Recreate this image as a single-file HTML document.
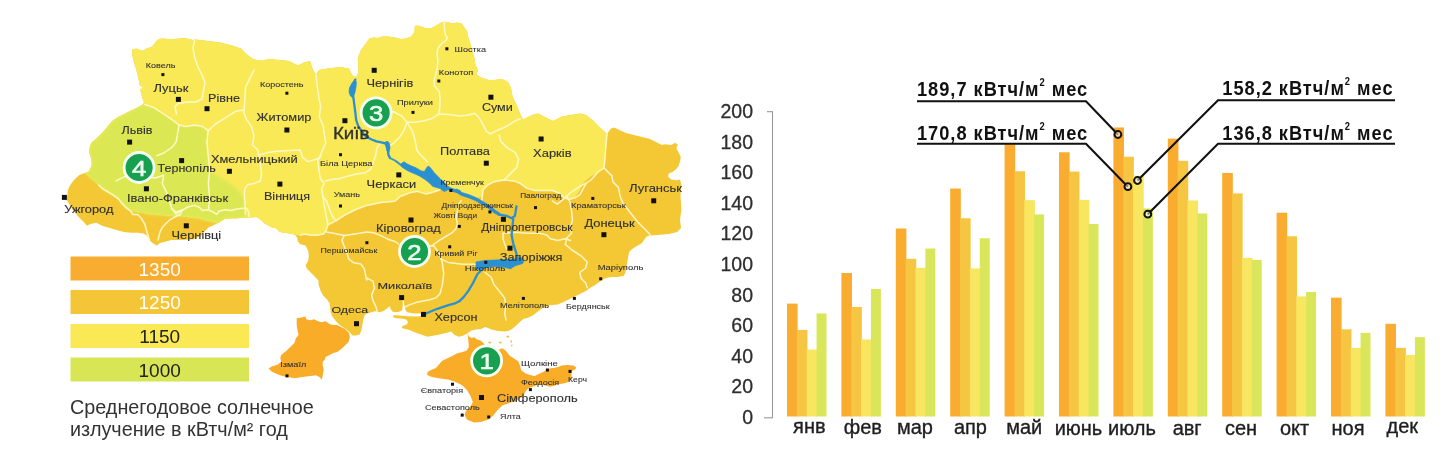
<!DOCTYPE html>
<html><head><meta charset="utf-8"><style>
html,body{margin:0;padding:0;background:#fff;}
body{width:1456px;height:466px;overflow:hidden;position:relative;font-family:"Liberation Sans",sans-serif;}
svg{position:absolute;left:0;top:0;filter:blur(0.35px);}
</style></head><body>
<svg width="1456" height="466" viewBox="0 0 1456 466" font-family="Liberation Sans, sans-serif">
<polygon points="131.8,49.7 136.1,48.6 140.4,50.2 142.5,50.7 146.8,48.6 152.2,46.4 155.4,42.2 158.6,38.9 162.9,38.4 168.3,38.9 173.6,38.9 180,38.4 184.3,37.9 188.6,38.9 192.9,40 196,39.5 208,41 220,42.5 232,45.5 241,48.5 247,54.5 253,59 259,60.5 264,60.5 268,59 280,60 289,61 298,65.5 304,62.5 310,61 313,70 316,74.5 319,70 328,68.5 340,67 349,68.5 350.5,72 353,76 356.5,76.8 358.5,72 358,62 357.8,57.9 360.7,50.4 366.1,42.9 369.3,38.6 373.6,37.5 377.9,38.1 382.2,36.5 388.6,36.5 395,37.5 400.4,39.1 405.8,38.6 411.1,36.5 414.4,32.2 414.9,25.7 418.6,25.7 425.1,27.9 431.5,27.9 435.8,25.7 441.2,22.5 444.4,21.4 448.7,22.5 453,23.6 457.3,22.5 461.6,23.6 464.8,27.9 467,31.1 468,36.5 470.1,42.9 472.3,50.4 474.4,57.9 475.5,65 478,70 476.5,74.5 481,77.5 490,80.5 502,79 508,82 511,88 512.6,97 517,106 520,113.6 523,119.6 532,115 538,113.6 547,118 553,121 562,116.6 571,115 580,113.6 586,115 593.6,121 601,128.6 607,134 611,128.5 614,127.6 626,133 638,136 650,139 662,145 665,144.3 671,145 675.5,142.8 677.8,145 676.3,148 678.5,152.5 680.8,157 680,161.5 678.5,166 676.3,169 672.5,172 668.8,173.5 668,176.5 671,179.5 677,180.3 680,179.5 681.5,185.5 680.8,190 680.5,196 681.4,209.9 680,219.6 681,228 677.2,232 668.8,234 657.6,235 650.4,235.5 646.5,236.4 644.6,239.3 641.7,243.2 636.9,246.1 632.1,249 629.2,251.9 628.2,256.7 627.2,262.5 626.3,268.3 625.3,273.1 623.4,276 617.6,277 611.8,277 606,277.9 602.1,279.9 598.3,282.8 594.4,285.6 590.5,287.6 586.7,290.5 580.9,293.4 575.1,296.3 569.3,299.2 563.5,302.1 557.7,304.5 549.4,305.2 543,307.7 537.9,311.6 532.7,315.5 527.5,318 523.7,318.7 519.8,321.9 516,325.7 512.1,329 508.2,330.9 504.4,331.5 497.9,330.9 491.5,329.6 487.6,327.7 485,327 481.2,329 476,329.6 471.5,330.5 467.2,333.6 462.9,335.8 458.6,336.8 454.3,334.7 451.1,331.5 447.9,332.5 443.6,333.6 438.3,334.7 432.9,335.8 427.5,336.8 422.6,335 417.8,333.4 412.9,331.5 408.1,329.6 403.3,328.6 401.3,327.2 403.3,325.7 407.1,324.3 408.1,321.9 406.2,319.5 401.3,318.6 396.5,318.3 392.7,317 393.5,315.3 397,315.3 402,315.8 408,316.2 414,316.5 420,316.2 424.5,315 420.7,313.6 414.9,313.4 411,313 407.1,312.2 405.2,309.3 404.2,304.5 403.6,299 402.6,299 402.8,304.5 402.3,310.3 399.4,311.7 395.6,312.2 392.7,311.7 390.7,309.3 389.8,305.9 388.8,306.9 385.9,309.3 383,311.2 379.1,312.2 375.3,311.2 371.4,312.2 367.6,313.2 364.7,315.1 363.5,318.5 362.5,324 361.5,330 359.5,334.5 356,335.5 352.6,335.4 350.1,332.8 347.5,330.2 343.6,327.6 339.8,325.1 335.9,321.2 332,316 330.7,312.2 330.1,307 329.5,303.2 326.9,299.3 323,295.5 320.4,290.3 318.5,284 318.5,280.4 314.6,276.5 310.7,272.6 306.9,268.8 305.6,264.9 308.2,261 308.8,255.9 308.2,250.7 305.6,245.6 300.4,244.3 297.9,241.7 297.3,238 295.1,234.7 290.8,233.7 286.5,233.1 282.2,232.6 279,231.5 275.8,228.3 271.5,227.2 267.2,225.1 264,222.9 260.8,219.7 256.5,217 251.1,217.5 245.7,217.5 240.4,218.1 235,218.6 231.4,218.3 224.6,219 220,222 214,225 208.8,227.3 205,231 201.3,235.5 193.8,239.3 182.5,240 171.3,240 166,241.6 160,243 156.7,245.5 152.5,243 149.4,240 147,235.7 143.5,233.4 137.6,232.8 131.7,232.8 125.8,232.2 119.9,231 114,229.2 108.1,227.5 102.2,225.7 96.3,222.8 90.4,223.9 86.9,225.7 83.3,221.6 78.6,216.9 72.7,209.8 69.2,203.9 66.8,200.3 67.4,194.4 68,189.7 70.3,185 74,180 79.3,175 85.1,173.1 89,171.2 90.9,167.3 91.9,163.4 90.9,157.6 89,151.8 90,146 91.9,142.2 96.7,138.3 102.5,132.5 107.3,126.7 112.2,120.9 118,117 123.8,114.2 129.6,111.3 135.4,108.4 141.2,105.5 144.1,102.8 142.7,99 141.2,94.1 140.3,89.3 143.2,87.9 139.3,84.5 138.8,79.7 137.4,74.8 136.4,70 135,66 133.9,62 132.9,58 132.3,54" fill="#F4C735"/>
<polygon points="131.8,49.7 136.1,48.6 140.4,50.2 142.5,50.7 146.8,48.6 152.2,46.4 155.4,42.2 158.6,38.9 162.9,38.4 168.3,38.9 173.6,38.9 180,38.4 184.3,37.9 188.6,38.9 192.9,40 196,39.5 208,41 220,42.5 232,45.5 241,48.5 247,54.5 253,59 259,60.5 264,60.5 268,59 280,60 289,61 298,65.5 304,62.5 310,61 313,70 316,74.5 319,70 328,68.5 340,67 349,68.5 350.5,72 353,76 356.5,76.8 358.5,72 358,62 357.8,57.9 360.7,50.4 366.1,42.9 369.3,38.6 373.6,37.5 377.9,38.1 382.2,36.5 388.6,36.5 395,37.5 400.4,39.1 405.8,38.6 411.1,36.5 414.4,32.2 414.9,25.7 418.6,25.7 425.1,27.9 431.5,27.9 435.8,25.7 441.2,22.5 444.4,21.4 448.7,22.5 453,23.6 457.3,22.5 461.6,23.6 464.8,27.9 467,31.1 468,36.5 470.1,42.9 472.3,50.4 474.4,57.9 475.5,65 478,70 476.5,74.5 481,77.5 490,80.5 502,79 508,82 511,88 512.6,97 517,106 520,113.6 523,119.6 532,115 538,113.6 547,118 553,121 562,116.6 571,115 580,113.6 586,115 593.6,121 601,128.6 607,134 606,145 605,158 604,168 598,172 590,177 584,182 580,190 575,197 568,199 563.6,197 558.8,193 552.3,190.5 542.7,190.5 534.6,190.5 526.6,188.1 520.1,183.3 513.7,180.9 504,180.1 494.4,181.7 488,184.9 483.1,189.7 481.5,197 470.2,198.6 462.2,194.6 454.1,191.3 444,190.5 439.5,190 431.2,192.8 425.9,193.9 416.9,191.4 410.4,192.6 400.1,196.5 394.9,201.2 381,202.6 367,205.4 355.8,209.5 344.7,215.1 336.3,220.7 327.9,224.9 327.5,226 326.2,230.2 323.6,234 317.2,235.3 310.7,235.3 304.3,234 300.4,235.3 297.9,235.5 295.1,234.7 290.8,233.7 286.5,233.1 282.2,232.6 279,231.5 275.8,228.3 271.5,227.2 267.2,225.1 264,222.9 260.8,219.7 256.5,217 251.1,217.5 245.7,217.5 240.4,218.1 235,218.6 231.4,218.3 224.6,219 220,222 216.4,222.8 208.8,221.3 197.6,218.3 182.5,216.8 167.5,216 160,215.3 149.4,214.5 143.5,213.3 136.4,212.1 130.5,211 125.8,207.4 122.3,203.9 118.7,199.2 114,195.6 108.1,192.1 102.2,188.5 98.7,185 94,181 89,177 85.1,173.1 89,171.2 90.9,167.3 91.9,163.4 90.9,157.6 89,151.8 90,146 91.9,142.2 96.7,138.3 102.5,132.5 107.3,126.7 112.2,120.9 118,117 123.8,114.2 129.6,111.3 135.4,108.4 141.2,105.5 144.1,102.8 142.7,99 141.2,94.1 140.3,89.3 143.2,87.9 139.3,84.5 138.8,79.7 137.4,74.8 136.4,70 135,66 133.9,62 132.9,58 132.3,54" fill="#FAE957"/>
<defs><clipPath id="ml"><polygon points="131.8,49.7 136.1,48.6 140.4,50.2 142.5,50.7 146.8,48.6 152.2,46.4 155.4,42.2 158.6,38.9 162.9,38.4 168.3,38.9 173.6,38.9 180,38.4 184.3,37.9 188.6,38.9 192.9,40 196,39.5 208,41 220,42.5 232,45.5 241,48.5 247,54.5 253,59 259,60.5 264,60.5 268,59 280,60 289,61 298,65.5 304,62.5 310,61 313,70 316,74.5 319,70 328,68.5 340,67 349,68.5 350.5,72 353,76 356.5,76.8 358.5,72 358,62 357.8,57.9 360.7,50.4 366.1,42.9 369.3,38.6 373.6,37.5 377.9,38.1 382.2,36.5 388.6,36.5 395,37.5 400.4,39.1 405.8,38.6 411.1,36.5 414.4,32.2 414.9,25.7 418.6,25.7 425.1,27.9 431.5,27.9 435.8,25.7 441.2,22.5 444.4,21.4 448.7,22.5 453,23.6 457.3,22.5 461.6,23.6 464.8,27.9 467,31.1 468,36.5 470.1,42.9 472.3,50.4 474.4,57.9 475.5,65 478,70 476.5,74.5 481,77.5 490,80.5 502,79 508,82 511,88 512.6,97 517,106 520,113.6 523,119.6 532,115 538,113.6 547,118 553,121 562,116.6 571,115 580,113.6 586,115 593.6,121 601,128.6 607,134 611,128.5 614,127.6 626,133 638,136 650,139 662,145 665,144.3 671,145 675.5,142.8 677.8,145 676.3,148 678.5,152.5 680.8,157 680,161.5 678.5,166 676.3,169 672.5,172 668.8,173.5 668,176.5 671,179.5 677,180.3 680,179.5 681.5,185.5 680.8,190 680.5,196 681.4,209.9 680,219.6 681,228 677.2,232 668.8,234 657.6,235 650.4,235.5 646.5,236.4 644.6,239.3 641.7,243.2 636.9,246.1 632.1,249 629.2,251.9 628.2,256.7 627.2,262.5 626.3,268.3 625.3,273.1 623.4,276 617.6,277 611.8,277 606,277.9 602.1,279.9 598.3,282.8 594.4,285.6 590.5,287.6 586.7,290.5 580.9,293.4 575.1,296.3 569.3,299.2 563.5,302.1 557.7,304.5 549.4,305.2 543,307.7 537.9,311.6 532.7,315.5 527.5,318 523.7,318.7 519.8,321.9 516,325.7 512.1,329 508.2,330.9 504.4,331.5 497.9,330.9 491.5,329.6 487.6,327.7 485,327 481.2,329 476,329.6 471.5,330.5 467.2,333.6 462.9,335.8 458.6,336.8 454.3,334.7 451.1,331.5 447.9,332.5 443.6,333.6 438.3,334.7 432.9,335.8 427.5,336.8 422.6,335 417.8,333.4 412.9,331.5 408.1,329.6 403.3,328.6 401.3,327.2 403.3,325.7 407.1,324.3 408.1,321.9 406.2,319.5 401.3,318.6 396.5,318.3 392.7,317 393.5,315.3 397,315.3 402,315.8 408,316.2 414,316.5 420,316.2 424.5,315 420.7,313.6 414.9,313.4 411,313 407.1,312.2 405.2,309.3 404.2,304.5 403.6,299 402.6,299 402.8,304.5 402.3,310.3 399.4,311.7 395.6,312.2 392.7,311.7 390.7,309.3 389.8,305.9 388.8,306.9 385.9,309.3 383,311.2 379.1,312.2 375.3,311.2 371.4,312.2 367.6,313.2 364.7,315.1 363.5,318.5 362.5,324 361.5,330 359.5,334.5 356,335.5 352.6,335.4 350.1,332.8 347.5,330.2 343.6,327.6 339.8,325.1 335.9,321.2 332,316 330.7,312.2 330.1,307 329.5,303.2 326.9,299.3 323,295.5 320.4,290.3 318.5,284 318.5,280.4 314.6,276.5 310.7,272.6 306.9,268.8 305.6,264.9 308.2,261 308.8,255.9 308.2,250.7 305.6,245.6 300.4,244.3 297.9,241.7 297.3,238 295.1,234.7 290.8,233.7 286.5,233.1 282.2,232.6 279,231.5 275.8,228.3 271.5,227.2 267.2,225.1 264,222.9 260.8,219.7 256.5,217 251.1,217.5 245.7,217.5 240.4,218.1 235,218.6 231.4,218.3 224.6,219 220,222 214,225 208.8,227.3 205,231 201.3,235.5 193.8,239.3 182.5,240 171.3,240 166,241.6 160,243 156.7,245.5 152.5,243 149.4,240 147,235.7 143.5,233.4 137.6,232.8 131.7,232.8 125.8,232.2 119.9,231 114,229.2 108.1,227.5 102.2,225.7 96.3,222.8 90.4,223.9 86.9,225.7 83.3,221.6 78.6,216.9 72.7,209.8 69.2,203.9 66.8,200.3 67.4,194.4 68,189.7 70.3,185 74,180 79.3,175 85.1,173.1 89,171.2 90.9,167.3 91.9,163.4 90.9,157.6 89,151.8 90,146 91.9,142.2 96.7,138.3 102.5,132.5 107.3,126.7 112.2,120.9 118,117 123.8,114.2 129.6,111.3 135.4,108.4 141.2,105.5 144.1,102.8 142.7,99 141.2,94.1 140.3,89.3 143.2,87.9 139.3,84.5 138.8,79.7 137.4,74.8 136.4,70 135,66 133.9,62 132.9,58 132.3,54"/></clipPath><filter id="gb" x="-10%" y="-10%" width="120%" height="120%"><feGaussianBlur stdDeviation="1.6"/></filter></defs>
<g clip-path="url(#ml)"><polygon points="85.1,173.1 89,171.2 90.9,167.3 91.9,163.4 90.9,157.6 89,151.8 90,146 91.9,142.2 96.7,138.3 102.5,132.5 107.3,126.7 112.2,120.9 118,117 123.8,114.2 129.6,111.3 135.4,108.4 141.2,105.5 145,104.5 150.8,106.4 155.3,108.4 163.7,114 172,119.5 179,125 186,126.5 194.3,125 202.7,126.5 208.3,130.7 206.9,141.8 208.3,155.8 208.5,169 212,172 220,177 228,182 236,188 242,194 245,202 246,210 246,217.5 240.4,218.1 235,218.6 231.4,218.3 224.6,219 220,222 216.4,222.8 208.8,221.3 197.6,218.3 182.5,216.8 167.5,216 160,215.3 149.4,214.5 143.5,213.3 136.4,212.1 130.5,211 125.8,207.4 122.3,203.9 118.7,199.2 114,195.6 108.1,192.1 102.2,188.5 98.7,185 94,181 89,177" fill="#DCE852" filter="url(#gb)"/></g>
<polygon points="467.6,332.7 468.9,336.6 471.5,337.9 474.1,337.2 476.6,339.2 480.5,340.5 483.5,343 486,347 492,351 498,350 502.5,348.3 506,351 509.7,355.8 514.5,358.7 518.3,361.6 520.3,366.4 521.2,370.3 525.1,373.2 529.9,375.1 534.7,376.1 538.6,374.1 542.5,372.2 546.3,370.3 550.2,368.3 554.1,367.9 557.9,366.9 561.8,365.4 567.6,365 573.4,365.4 576.3,367.4 575.3,369.3 572.4,370.8 571.4,374.1 571.4,378 569.5,380.9 566.6,382.8 561.8,383.8 557.9,384.3 554.1,385.7 550.2,386.7 546.3,385.7 541.5,384.7 536.7,385.2 532.8,386.7 529,388.1 526.1,390.5 523.5,395.5 516.5,400.7 509.4,403 502.3,405.4 497.6,410.1 492.9,416 488.2,419.6 481,421.9 474,422.5 466.9,419.6 464.6,414.8 465.7,411.3 470.5,406.6 472.8,401.9 470.5,396 466.9,390 462.2,385.3 455.1,381.8 448,379.4 438.6,378.3 432,377 427.1,375 427.5,372 431,370 436,368 441.9,361 447,358.5 452.2,355.9 457.3,353.3 462.5,352 466.4,350.7 468.9,346.9 468.3,340.5" fill="#F9AC28"/>
<polygon points="296.7,318.3 301.5,317.4 305.4,316.4 306.3,319.3 310.2,320.3 314,319.3 318,321.2 321.8,322.2 325.6,321.2 329.5,324 333.4,325 337.2,325 341,327 345,329 348.8,332.8 349.8,336.7 348.8,341.5 345,345.4 341,349.2 337.2,352 333.4,353 329.5,355 325.6,357 324.7,359.8 322.7,361.8 322.7,365.6 323.7,369.5 322.7,375.3 321.8,380 319.8,377.2 316,375.3 308.3,376.3 300.5,377.2 294.7,378.2 289,377.2 283.2,376.3 277.4,374.3 271.6,371.4 268.7,368.5 271.6,366.6 277.4,364.7 281.2,361.8 280.3,358 281.2,355 285,352 289,348.3 291.9,345.4 294.7,342.5 295.7,338.6 298.6,334.7 297.6,330.9 296.7,325" fill="#F9AC28"/>
<ellipse cx="489.8" cy="342.6" rx="1.6" ry="1.0" fill="#F9AC28" opacity="0.8"/>
<ellipse cx="500.3" cy="342.6" rx="1.5" ry="1.0" fill="#F9AC28" opacity="0.8"/>
<ellipse cx="507.8" cy="336.6" rx="1.3" ry="1.2" fill="#F9AC28" opacity="0.8"/>
<ellipse cx="511.2" cy="341.5" rx="0.7" ry="1.4" fill="#F9AC28" opacity="0.8"/>
<ellipse cx="511.8" cy="345.5" rx="0.6" ry="1.2" fill="#F9AC28" opacity="0.8"/>
<g fill="none" stroke="#FFFBD6" stroke-width="1.5" stroke-linejoin="round" stroke-linecap="round" opacity="0.9">
<polyline points="194.6,40.5 193,48 194.6,57 197.6,66 202,75 205,82.5 203.6,90 202,99 196,102 187,102 178,103.6 175,106.6 176.5,114"/>
<polyline points="254,70 249,80.3 245.7,86.7 245,95.7 244.4,107.3 243.8,112.5 246.3,119 251.5,126.6 254,136 252.5,145 257.8,150 259,157.7"/>
<polyline points="243.8,110 236,111.2 225.7,117.6 215.5,124 208.3,130.7"/>
<polyline points="145,104.5 150.8,106.4 155.3,108.4 163.7,114 172,119.5 179,125 186,126.5 194.3,125 202.7,126.5 208.3,130.7 206.9,141.8 208.3,155.8 209.7,169.7 208.3,183.7 209.7,197.6 208.5,209.8"/>
<polyline points="172,208.8 176,212 182.5,210 188,207 195,205.3 199.5,207.5 202.5,210.5 208.5,209.8 213,212 216.8,214.3 219,211.3 225,209.8 231,210.5 237,209 243,208.3 246.8,208.3 248.5,212 249,216.5"/>
<polyline points="179,125 177.6,133.5 176.2,141.8 172,147.4 163.7,153 156.7,155.8"/>
<polyline points="116,180.9 124.6,176.7 135.8,175.3 147,176.7 155.3,178 163.7,175.3 162.3,183.7 166.4,192 169.2,200.4 172,208.8 176,214 182.5,210"/>
<polyline points="98.7,185 102.2,188.5 108.1,192.1 114,195.6 118.7,199.2 122.3,203.9 125.8,207.4 130.5,211 132.9,214.5 137.6,214.5 141.1,218 144.7,224 147,232.2 149.4,240"/>
<polyline points="182.5,210 180.3,214.5 175,216.8 169.8,219.8 166,223.5 162.3,227.3 160,232 158,240"/>
<polyline points="259,157.7 260.4,165.4 261.6,173.2 260.4,180.9 253.9,183.5 247.5,184.8 244.9,188.6 244.3,195 244.9,201.5 245.5,214"/>
<polyline points="259,155 268,152.6 277,151.3 290,150.5 300,150 302.8,157.7 308,161.6 317,159 320.9,156.4"/>
<polyline points="316,74.5 317,85 319.3,100 320.6,106.4 319.3,116.7 323.2,125.7 324.5,136 325.8,142.5 321.9,151.5 319.3,158 317.7,160.4 319,170.7 320.3,178.5 324.2,183.6 321.6,188.8 322.9,196.5 324.2,205 326,215 327.9,224.9"/>
<polyline points="325.4,181 330.6,179.8 339.6,178.5 348.6,175.9 356.4,174 365.4,172.7 370.5,169.5 373.1,163 375.7,155.3 377,147.6 380,144"/>
<polyline points="391,112 393,111.5 401.5,115.8 407,122.3"/>
<polyline points="444.4,21.4 444.4,29 445.5,35.4 447.6,37.5 445.5,40.7 441.2,44 438,48.3 436.9,54.7 438,60 437.5,66 436.6,70.9 434,81.2 434.7,86.3 439.2,91.5 440,97.9 440,104.3 439.4,110.7 438.8,114.6"/>
<polyline points="407,122.3 414.3,122.3 423.3,121 432.3,118.5 437.5,114.6 441.3,114 449,114.6 459.4,115.9 467.1,115.3 474.8,113.3 478.7,117.2 482.5,123.6 486.4,131.4 490.3,133.9 498,130 504.4,127.5 510.9,123.6 515,121 520,119"/>
<polyline points="407,122.3 412.3,130.8 415,140 416.8,150 420,154.3 424.4,158.6 427,161.8"/>
<polyline points="407,122.3 403.7,130.8 399.4,137.3 393,143.7 386.5,148"/>
<polyline points="499.2,135 500.8,141.4 507.3,147.9 515.3,152.7 518.5,159.1 516.9,167.2 510.5,173.6 505.6,178.5 504,180.1"/>
<polyline points="607,134 606,145 605,158 604,168 611,175"/>
<polyline points="300.4,235.3 304.3,234 310.7,235.3 317.2,235.3 323.6,234 326.2,230.2 327.9,224.9 336.3,220.7 344.7,215.1 355.8,209.5 367,205.4 381,202.6 394.9,201.2 400.1,196.5 410.4,192.6 416.9,191.4 425.9,193.9 431.2,192.8 439.5,190"/>
<polyline points="481.5,202.6 483.1,189.7 488,184.9 494.4,181.7 504,180.1 513.7,180.9 520.1,183.3 526.6,188.1 534.6,190.5 542.7,190.5 552.3,190.5 558.8,193 563.6,197 568.4,199.4 574.9,197.8 580,194.6 586.2,183.2 591,180 598,172 604,168"/>
<polyline points="322.9,196.5 326.5,201 330.7,212.3 333.5,218 336.3,220.7"/>
<polyline points="326.5,232.1 333.6,233.3 344.2,235.6 351.3,234.4 359.6,233.3 366.6,232.1 373.7,232.7 380.8,235.6 387.9,239.2 395,241.5 398.5,243.9"/>
<polyline points="428,246 434,245.8 439.5,254.2 442.3,262.6 443.7,273.7 442.3,284.9 440,293.7 435.8,297.9 428.8,300 417.6,302 409.3,304.9 405.1,307"/>
<polyline points="344.2,235.6 341.9,240.3 344.2,246.2 346.6,252.1 348.9,259.2 353.7,262.8 360.7,264 364.3,268.7 365.5,274.6 366.6,280 367.4,278.4 373,281.2 374.4,288.1 371.6,295.1 373,300.7 375.8,306.3 377.2,311.8"/>
<polyline points="461.2,200.5 458.6,204.3 457.4,210.8 456,217.2 457.4,223.6 456,228.8 452.2,232.7 445.8,236.5 439.3,240.4 432.9,245"/>
<polyline points="441,258.8 448.2,262.4 462.8,264.3 475.6,264.3"/>
<polyline points="503,233.2 515.8,232.3 526.7,233.2 539.5,233.2 546.8,235.1 550.4,238.7 557.7,240.5 565,238.7 570.5,240.5"/>
<polyline points="552.4,200.9 557.3,204.1 565.3,197.7 570.1,192.9 579.8,186.4 586.2,183.2"/>
<polyline points="566.9,196.1 570.1,202.5 571.7,212.2 572.5,220.2 570.1,228.3 571.7,233.1 566.9,238 565.3,244.4 572,250 581.2,256 587.2,262 585.7,268 579.7,272.5 581.2,278.5 585.7,283 587.2,287.6"/>
<polyline points="611.6,175 613,182 618.6,187.6 620,196 622.8,202.9 627,208.5 632.5,215.5 638.1,222.4 643.7,228 649.3,233.6 650.7,237"/>
<polyline points="503,233.2 503,238.7 504.8,244.2 506.6,248.8"/>
<polyline points="485,272.5 491,277 494,284.6 500,292 504.6,298 506,305.6 504.6,313 506,320"/>
</g>
<g fill="none" stroke="#2A90D2" stroke-linejoin="round" stroke-linecap="round">
<polyline points="355.3,79.6 353.3,83.5 351,88 352,95 353.3,97 354.3,104.7 355.3,112.4 356.2,120.2 358.2,126 362,131.7 365.9,136.6 371.7,139.5 376.5,141.4 381.3,142.4 385.2,143.3 387.1,146.2 388,151 388.5,155 390,158" stroke-width="2.3"/>
<polyline points="498,214.3 506.8,215.9 511.6,218.3 514.9,215.9 515.7,211.1 516.5,206.3" stroke-width="2.3"/>
<polyline points="513.2,219.1 512.4,227.2 511.6,235.2 513.2,243.3 515.7,251.3 517.3,257" stroke-width="2.3"/>
<polyline points="480.5,271 477.5,274 473,283 468.5,290.6 464,296.6 459.5,301.1 455,303.3 447.7,305.4 437.4,308.8 428.9,312.3 423.5,314.4" stroke-width="2.3"/>
</g>
<polygon points="355.3,79.6 352,83 349.5,88 349,92 350.5,96 353,98 354.8,93 356,87 356.3,82" fill="#2A90D2" stroke="#2A90D2" stroke-width="0.8" stroke-linejoin="round"/>
<polygon points="385.5,141.8 388,141.5 389.5,144 390,148 389,152 387,151 386,147" fill="#2A90D2" stroke="#2A90D2" stroke-width="0.8" stroke-linejoin="round"/>
<polygon points="390,157.5 396.4,160.7 400.7,164 404,161.8 407.2,164 411.5,166.1 415.8,167.7 421.1,170.9 424.4,171.5 427,167.2 428.7,166.1 430.8,168.3 434,172.5 437.2,175.8 440.5,179 444.8,183.3 448,186.5 451.2,188.1 454.4,189.2 460,190.3 460,193 454.4,191.9 448,189.7 444.8,191.3 442.6,190.8 440.5,188.7 437.2,187.6 433,186.5 430.8,184.4 428.7,182.2 424.4,179 420.1,176.3 415.8,174.2 411.5,172.5 407.2,170.4 402.9,167.7 398.6,164 394.3,160.7 390,158.6" fill="#2A90D2" stroke="#2A90D2" stroke-width="0.8" stroke-linejoin="round"/>
<polygon points="476,262 485,260.5 500,259.8 515,259 519,257 522,258.3 523.5,262 522.6,263.5 515,265.8 510.6,268.8 504.6,267.3 492.6,266.5 485,268 480.5,271 476,268" fill="#2A90D2" stroke="#2A90D2" stroke-width="0.8" stroke-linejoin="round"/>
<polygon points="456,188.9 462.5,192.7 469,194.7 476.7,197.9 483.1,201.7 489.6,205.6 496,210.8 500,213.3 500,215.3 494.7,213.3 488.3,208.2 481.8,204.3 475.4,200.5 469,197.9 461.2,195.3 454.8,191.4" fill="#2A90D2" stroke="#2A90D2" stroke-width="0.8" stroke-linejoin="round"/>
<text x="145.8" y="67.9" font-size="7.33" fill="#303030" stroke="#303030" stroke-width="0.08" textLength="29.6" lengthAdjust="spacingAndGlyphs">Ковель</text>
<text x="153.5" y="91.7" font-size="10.29" fill="#303030" stroke="#303030" stroke-width="0.12" textLength="34.8" lengthAdjust="spacingAndGlyphs">Луцьк</text>
<text x="208.1" y="101.5" font-size="10.29" fill="#303030" stroke="#303030" stroke-width="0.12" textLength="31.8" lengthAdjust="spacingAndGlyphs">Рівне</text>
<text x="259.9" y="86.7" font-size="7.61" fill="#303030" stroke="#303030" stroke-width="0.08" textLength="43.7" lengthAdjust="spacingAndGlyphs">Коростень</text>
<text x="256.6" y="120.5" font-size="10.43" fill="#303030" stroke="#303030" stroke-width="0.12" textLength="54.8" lengthAdjust="spacingAndGlyphs">Житомир</text>
<text x="121.6" y="134.4" font-size="10.29" fill="#303030" stroke="#303030" stroke-width="0.12" textLength="30.9" lengthAdjust="spacingAndGlyphs">Львів</text>
<text x="157.5" y="172.3" font-size="11.00" fill="#303030" stroke="#303030" stroke-width="0.12" textLength="58.3" lengthAdjust="spacingAndGlyphs">Тернопіль</text>
<text x="210.9" y="162.5" font-size="10.29" fill="#303030" stroke="#303030" stroke-width="0.12" textLength="86.8" lengthAdjust="spacingAndGlyphs">Хмельницький</text>
<text x="127" y="201.5" font-size="10.57" fill="#303030" stroke="#303030" stroke-width="0.12" textLength="101.2" lengthAdjust="spacingAndGlyphs">Івано-Франківськ</text>
<text x="264" y="200" font-size="10.57" fill="#303030" stroke="#303030" stroke-width="0.12" textLength="46.0" lengthAdjust="spacingAndGlyphs">Вінниця</text>
<text x="64.2" y="212.5" font-size="10.57" fill="#303030" stroke="#303030" stroke-width="0.12" textLength="49.2" lengthAdjust="spacingAndGlyphs">Ужгород</text>
<text x="171.6" y="238.5" font-size="10.01" fill="#303030" stroke="#303030" stroke-width="0.12" textLength="49.6" lengthAdjust="spacingAndGlyphs">Чернівці</text>
<text x="332.9" y="139.2" font-size="16.92" fill="#303030" stroke="#303030" stroke-width="0.35" textLength="36.5" lengthAdjust="spacingAndGlyphs">Київ</text>
<text x="320" y="165.9" font-size="7.75" fill="#303030" stroke="#303030" stroke-width="0.08" textLength="52.4" lengthAdjust="spacingAndGlyphs">Біла Церква</text>
<text x="333.8" y="196.8" font-size="7.33" fill="#303030" stroke="#303030" stroke-width="0.08" textLength="26.2" lengthAdjust="spacingAndGlyphs">Умань</text>
<text x="454.6" y="51.6" font-size="7.33" fill="#303030" stroke="#303030" stroke-width="0.08" textLength="31.4" lengthAdjust="spacingAndGlyphs">Шостка</text>
<text x="438.8" y="74.8" font-size="7.33" fill="#303030" stroke="#303030" stroke-width="0.08" textLength="34.5" lengthAdjust="spacingAndGlyphs">Конотоп</text>
<text x="366.4" y="86.6" font-size="10.29" fill="#303030" stroke="#303030" stroke-width="0.12" textLength="47.0" lengthAdjust="spacingAndGlyphs">Чернігів</text>
<text x="396.9" y="105" font-size="7.33" fill="#303030" stroke="#303030" stroke-width="0.08" textLength="36.1" lengthAdjust="spacingAndGlyphs">Прилуки</text>
<text x="481.9" y="111.4" font-size="10.01" fill="#303030" stroke="#303030" stroke-width="0.12" textLength="30.9" lengthAdjust="spacingAndGlyphs">Суми</text>
<text x="440" y="154.6" font-size="10.57" fill="#303030" stroke="#303030" stroke-width="0.12" textLength="49.9" lengthAdjust="spacingAndGlyphs">Полтава</text>
<text x="533" y="156.7" font-size="10.72" fill="#303030" stroke="#303030" stroke-width="0.12" textLength="38.6" lengthAdjust="spacingAndGlyphs">Харків</text>
<text x="366.6" y="187.5" font-size="10.01" fill="#303030" stroke="#303030" stroke-width="0.12" textLength="49.6" lengthAdjust="spacingAndGlyphs">Черкаси</text>
<text x="440.5" y="184.9" font-size="7.05" fill="#303030" stroke="#303030" stroke-width="0.08" textLength="43.4" lengthAdjust="spacingAndGlyphs">Кременчук</text>
<text x="520.2" y="197.6" font-size="7.47" fill="#303030" stroke="#303030" stroke-width="0.08" textLength="41.1" lengthAdjust="spacingAndGlyphs">Павлоград</text>
<text x="629" y="192.4" font-size="10.72" fill="#303030" stroke="#303030" stroke-width="0.12" textLength="53.0" lengthAdjust="spacingAndGlyphs">Луганськ</text>
<text x="571.1" y="208.2" font-size="7.47" fill="#303030" stroke="#303030" stroke-width="0.08" textLength="54.6" lengthAdjust="spacingAndGlyphs">Краматорськ</text>
<text x="441.5" y="208.2" font-size="7.33" fill="#303030" stroke="#303030" stroke-width="0.08" textLength="71.5" lengthAdjust="spacingAndGlyphs">Дніпродзержинськ</text>
<text x="433.6" y="217.9" font-size="7.33" fill="#303030" stroke="#303030" stroke-width="0.08" textLength="43.4" lengthAdjust="spacingAndGlyphs">Жовті Води</text>
<text x="376.1" y="232" font-size="10.86" fill="#303030" stroke="#303030" stroke-width="0.12" textLength="64.7" lengthAdjust="spacingAndGlyphs">Кіровоград</text>
<text x="481.3" y="231.2" font-size="10.86" fill="#303030" stroke="#303030" stroke-width="0.12" textLength="91.2" lengthAdjust="spacingAndGlyphs">Дніпропетровськ</text>
<text x="584.4" y="226.8" font-size="10.86" fill="#303030" stroke="#303030" stroke-width="0.12" textLength="50.2" lengthAdjust="spacingAndGlyphs">Донецьк</text>
<text x="320.4" y="253.3" font-size="7.05" fill="#303030" stroke="#303030" stroke-width="0.08" textLength="56.9" lengthAdjust="spacingAndGlyphs">Першомайськ</text>
<text x="434.4" y="256.2" font-size="7.05" fill="#303030" stroke="#303030" stroke-width="0.08" textLength="43.4" lengthAdjust="spacingAndGlyphs">Кривий Ріг</text>
<text x="377.5" y="288.8" font-size="9.87" fill="#303030" stroke="#303030" stroke-width="0.12" textLength="54.8" lengthAdjust="spacingAndGlyphs">Миколаїв</text>
<text x="331.4" y="312.5" font-size="9.59" fill="#303030" stroke="#303030" stroke-width="0.08" textLength="36.7" lengthAdjust="spacingAndGlyphs">Одеса</text>
<text x="434.4" y="320.9" font-size="10.57" fill="#303030" stroke="#303030" stroke-width="0.12" textLength="43.2" lengthAdjust="spacingAndGlyphs">Херсон</text>
<text x="464.8" y="271" font-size="7.33" fill="#303030" stroke="#303030" stroke-width="0.08" textLength="40.5" lengthAdjust="spacingAndGlyphs">Нікополь</text>
<text x="499.8" y="260.5" font-size="10.57" fill="#303030" stroke="#303030" stroke-width="0.12" textLength="62.6" lengthAdjust="spacingAndGlyphs">Запоріжжя</text>
<text x="500.1" y="307.8" font-size="7.75" fill="#303030" stroke="#303030" stroke-width="0.08" textLength="48.8" lengthAdjust="spacingAndGlyphs">Мелітополь</text>
<text x="597.7" y="269.5" font-size="7.47" fill="#303030" stroke="#303030" stroke-width="0.08" textLength="45.7" lengthAdjust="spacingAndGlyphs">Маріуполь</text>
<text x="565.9" y="308.9" font-size="7.75" fill="#303030" stroke="#303030" stroke-width="0.08" textLength="43.8" lengthAdjust="spacingAndGlyphs">Бердянськ</text>
<text x="521" y="366" font-size="7.75" fill="#303030" stroke="#303030" stroke-width="0.08" textLength="37.0" lengthAdjust="spacingAndGlyphs">Щолкіне</text>
<text x="521" y="384.9" font-size="7.75" fill="#303030" stroke="#303030" stroke-width="0.08" textLength="38.2" lengthAdjust="spacingAndGlyphs">Феодосія</text>
<text x="568.1" y="381.8" font-size="7.47" fill="#303030" stroke="#303030" stroke-width="0.08" textLength="18.9" lengthAdjust="spacingAndGlyphs">Керч</text>
<text x="420.7" y="392.7" font-size="7.47" fill="#303030" stroke="#303030" stroke-width="0.08" textLength="42.4" lengthAdjust="spacingAndGlyphs">Євпаторія</text>
<text x="497" y="402" font-size="11.28" fill="#303030" stroke="#303030" stroke-width="0.12" textLength="80.6" lengthAdjust="spacingAndGlyphs">Сімферополь</text>
<text x="425" y="410.4" font-size="7.47" fill="#303030" stroke="#303030" stroke-width="0.08" textLength="54.7" lengthAdjust="spacingAndGlyphs">Севастополь</text>
<text x="500" y="419.4" font-size="7.47" fill="#303030" stroke="#303030" stroke-width="0.08" textLength="20.6" lengthAdjust="spacingAndGlyphs">Ялта</text>
<text x="280.3" y="366.6" font-size="6.63" fill="#303030" stroke="#303030" stroke-width="0.08" textLength="26.0" lengthAdjust="spacingAndGlyphs">Ізмаїл</text>
<rect x="175.9" y="96.9" width="5" height="5" fill="#111"/>
<rect x="204.5" y="106.2" width="5" height="5" fill="#111"/>
<rect x="284.4" y="127.5" width="5" height="5" fill="#111"/>
<rect x="127.1" y="139.6" width="5" height="5" fill="#111"/>
<rect x="179.1" y="158.1" width="5" height="5" fill="#111"/>
<rect x="226.9" y="168.8" width="5" height="5" fill="#111"/>
<rect x="143.9" y="186.3" width="5" height="5" fill="#111"/>
<rect x="277.4" y="181.6" width="5" height="5" fill="#111"/>
<rect x="61.9" y="194.9" width="5" height="5" fill="#111"/>
<rect x="183.8" y="223.3" width="5" height="5" fill="#111"/>
<rect x="342.4" y="118.2" width="5" height="5" fill="#111"/>
<rect x="371.7" y="67.8" width="5" height="5" fill="#111"/>
<rect x="488.4" y="94.7" width="5" height="5" fill="#111"/>
<rect x="483.8" y="160.7" width="5" height="5" fill="#111"/>
<rect x="538.6" y="136.5" width="5" height="5" fill="#111"/>
<rect x="396.3" y="172.4" width="5" height="5" fill="#111"/>
<rect x="651.2" y="198.3" width="5" height="5" fill="#111"/>
<rect x="408.5" y="217.5" width="5" height="5" fill="#111"/>
<rect x="500.9" y="216.8" width="5" height="5" fill="#111"/>
<rect x="601.4" y="232.2" width="5" height="5" fill="#111"/>
<rect x="399.1" y="295.1" width="5" height="5" fill="#111"/>
<rect x="354.0" y="321.2" width="5" height="5" fill="#111"/>
<rect x="421.0" y="311.9" width="5" height="5" fill="#111"/>
<rect x="507.5" y="245.7" width="5" height="5" fill="#111"/>
<rect x="479.0" y="395.0" width="5" height="5" fill="#111"/>
<rect x="161.4" y="73.1" width="3" height="3" fill="#111"/>
<rect x="285.4" y="91.7" width="3" height="3" fill="#111"/>
<rect x="339.0" y="153.2" width="3" height="3" fill="#111"/>
<rect x="339.0" y="204.5" width="3" height="3" fill="#111"/>
<rect x="445.4" y="47.3" width="3" height="3" fill="#111"/>
<rect x="437.3" y="79.5" width="3" height="3" fill="#111"/>
<rect x="411.5" y="110.9" width="3" height="3" fill="#111"/>
<rect x="449.4" y="189.0" width="3" height="3" fill="#111"/>
<rect x="534.0" y="206.1" width="3" height="3" fill="#111"/>
<rect x="591.3" y="196.9" width="3" height="3" fill="#111"/>
<rect x="488.4" y="210.4" width="3" height="3" fill="#111"/>
<rect x="457.8" y="224.9" width="3" height="3" fill="#111"/>
<rect x="365.4" y="241.2" width="3" height="3" fill="#111"/>
<rect x="448.2" y="245.3" width="3" height="3" fill="#111"/>
<rect x="484.3" y="260.8" width="3" height="3" fill="#111"/>
<rect x="521.9" y="296.9" width="3" height="3" fill="#111"/>
<rect x="599.2" y="277.3" width="3" height="3" fill="#111"/>
<rect x="572.9" y="296.9" width="3" height="3" fill="#111"/>
<rect x="545.9" y="368.5" width="3" height="3" fill="#111"/>
<rect x="528.9" y="388.1" width="3" height="3" fill="#111"/>
<rect x="568.5" y="369.9" width="3" height="3" fill="#111"/>
<rect x="451.0" y="382.7" width="3" height="3" fill="#111"/>
<rect x="460.7" y="413.6" width="3" height="3" fill="#111"/>
<rect x="487.2" y="415.5" width="3" height="3" fill="#111"/>
<rect x="285.5" y="374.4" width="3" height="3" fill="#111"/>
<circle cx="139.1" cy="167.5" r="15" fill="#17A04F" stroke="#F4FFF4" stroke-width="2.8"/>
<text transform="translate(139.1,175.6) scale(1.12,1)" font-size="23" fill="#EFFFF0" stroke="#EFFFF0" stroke-width="0.6" text-anchor="middle">4</text>
<circle cx="376.1" cy="112.8" r="15" fill="#17A04F" stroke="#F4FFF4" stroke-width="2.8"/>
<text transform="translate(376.1,120.89999999999999) scale(1.12,1)" font-size="23" fill="#EFFFF0" stroke="#EFFFF0" stroke-width="0.6" text-anchor="middle">3</text>
<circle cx="414.5" cy="251.5" r="15" fill="#17A04F" stroke="#F4FFF4" stroke-width="2.8"/>
<text transform="translate(414.5,259.6) scale(1.12,1)" font-size="23" fill="#EFFFF0" stroke="#EFFFF0" stroke-width="0.6" text-anchor="middle">2</text>
<circle cx="486.6" cy="360.8" r="15" fill="#17A04F" stroke="#F4FFF4" stroke-width="2.8"/>
<text transform="translate(486.6,368.90000000000003) scale(1.12,1)" font-size="23" fill="#EFFFF0" stroke="#EFFFF0" stroke-width="0.6" text-anchor="middle">1</text>
<rect x="70.5" y="256.5" width="178.5" height="24" fill="#F8AD30"/>
<text x="159.7" y="275.8" font-size="19" fill="#fff" text-anchor="middle">1350</text>
<rect x="70.5" y="290" width="178.5" height="24" fill="#F4C637"/>
<text x="159.7" y="309.3" font-size="19" fill="#fff" text-anchor="middle">1250</text>
<rect x="70.5" y="324" width="178.5" height="24" fill="#FAE855"/>
<text x="159.7" y="343.3" font-size="19" fill="#222" text-anchor="middle">1150</text>
<rect x="70.5" y="357.5" width="178.5" height="24" fill="#D8E555"/>
<text x="159.7" y="376.8" font-size="19" fill="#222" text-anchor="middle">1000</text>
<text x="70" y="413.5" font-size="19.8" fill="#333">Среднегодовое солнечное</text>
<text x="70" y="435.5" font-size="19.8" fill="#333">излучение в кВтч/м² год</text>
<rect x="787.00" y="303.62" width="10.6" height="112.88" fill="#F9AC30"/>
<rect x="796.85" y="329.95" width="10.6" height="86.55" fill="#F6C642"/>
<rect x="806.70" y="349.54" width="10.6" height="66.96" fill="#F8E660"/>
<rect x="816.55" y="313.42" width="9.95" height="103.08" fill="#DAE65A"/>
<text x="809.35" y="432.9" font-size="20" fill="#1e1e1e" stroke="#1e1e1e" stroke-width="0.35" text-anchor="middle">янв</text>
<rect x="841.40" y="273.01" width="10.6" height="143.49" fill="#F9AC30"/>
<rect x="851.25" y="306.99" width="10.6" height="109.51" fill="#F6C642"/>
<rect x="861.10" y="339.44" width="10.6" height="77.06" fill="#F8E660"/>
<rect x="870.95" y="288.93" width="9.95" height="127.57" fill="#DAE65A"/>
<text x="862.85" y="434.2" font-size="20" fill="#1e1e1e" stroke="#1e1e1e" stroke-width="0.35" text-anchor="middle">фев</text>
<rect x="895.80" y="228.48" width="10.6" height="188.02" fill="#F9AC30"/>
<rect x="905.65" y="258.78" width="10.6" height="157.72" fill="#F6C642"/>
<rect x="915.50" y="267.81" width="10.6" height="148.69" fill="#F8E660"/>
<rect x="925.35" y="248.53" width="9.95" height="167.97" fill="#DAE65A"/>
<text x="914.95" y="433.8" font-size="20" fill="#1e1e1e" stroke="#1e1e1e" stroke-width="0.35" text-anchor="middle">мар</text>
<rect x="950.20" y="188.53" width="10.6" height="227.97" fill="#F9AC30"/>
<rect x="960.05" y="218.22" width="10.6" height="198.28" fill="#F6C642"/>
<rect x="969.90" y="268.42" width="10.6" height="148.08" fill="#F8E660"/>
<rect x="979.75" y="238.27" width="9.95" height="178.23" fill="#DAE65A"/>
<text x="970.45" y="434" font-size="20" fill="#1e1e1e" stroke="#1e1e1e" stroke-width="0.35" text-anchor="middle">апр</text>
<rect x="1004.60" y="144.15" width="10.6" height="272.35" fill="#F9AC30"/>
<rect x="1014.45" y="171.24" width="10.6" height="245.26" fill="#F6C642"/>
<rect x="1024.30" y="200.16" width="10.6" height="216.34" fill="#F8E660"/>
<rect x="1034.15" y="214.40" width="9.95" height="202.10" fill="#DAE65A"/>
<text x="1024.25" y="434" font-size="20" fill="#1e1e1e" stroke="#1e1e1e" stroke-width="0.35" text-anchor="middle">май</text>
<rect x="1059.00" y="152.26" width="10.6" height="264.24" fill="#F9AC30"/>
<rect x="1068.85" y="171.54" width="10.6" height="244.96" fill="#F6C642"/>
<rect x="1078.70" y="199.86" width="10.6" height="216.64" fill="#F8E660"/>
<rect x="1088.55" y="224.04" width="9.95" height="192.46" fill="#DAE65A"/>
<text x="1078.45" y="434.5" font-size="20" fill="#1e1e1e" stroke="#1e1e1e" stroke-width="0.35" text-anchor="middle">июнь</text>
<rect x="1113.40" y="127.46" width="10.6" height="289.04" fill="#F9AC30"/>
<rect x="1123.25" y="156.70" width="10.6" height="259.80" fill="#F6C642"/>
<rect x="1133.10" y="175.67" width="10.6" height="240.83" fill="#F8E660"/>
<rect x="1142.95" y="208.43" width="9.95" height="208.07" fill="#DAE65A"/>
<text x="1132" y="434.5" font-size="20" fill="#1e1e1e" stroke="#1e1e1e" stroke-width="0.35" text-anchor="middle">июль</text>
<rect x="1167.80" y="138.64" width="10.6" height="277.86" fill="#F9AC30"/>
<rect x="1177.65" y="160.83" width="10.6" height="255.67" fill="#F6C642"/>
<rect x="1187.50" y="200.47" width="10.6" height="216.03" fill="#F8E660"/>
<rect x="1197.35" y="213.48" width="9.95" height="203.02" fill="#DAE65A"/>
<text x="1187.15" y="434.5" font-size="20" fill="#1e1e1e" stroke="#1e1e1e" stroke-width="0.35" text-anchor="middle">авг</text>
<rect x="1222.20" y="172.92" width="10.6" height="243.58" fill="#F9AC30"/>
<rect x="1232.05" y="193.43" width="10.6" height="223.07" fill="#F6C642"/>
<rect x="1241.90" y="257.86" width="10.6" height="158.64" fill="#F8E660"/>
<rect x="1251.75" y="259.85" width="9.95" height="156.65" fill="#DAE65A"/>
<text x="1241" y="434.5" font-size="20" fill="#1e1e1e" stroke="#1e1e1e" stroke-width="0.35" text-anchor="middle">сен</text>
<rect x="1276.60" y="212.71" width="10.6" height="203.79" fill="#F9AC30"/>
<rect x="1286.45" y="236.28" width="10.6" height="180.22" fill="#F6C642"/>
<rect x="1296.30" y="296.43" width="10.6" height="120.07" fill="#F8E660"/>
<rect x="1306.15" y="291.99" width="9.95" height="124.51" fill="#DAE65A"/>
<text x="1294.55" y="434.5" font-size="20" fill="#1e1e1e" stroke="#1e1e1e" stroke-width="0.35" text-anchor="middle">окт</text>
<rect x="1331.00" y="297.66" width="10.6" height="118.84" fill="#F9AC30"/>
<rect x="1340.85" y="329.34" width="10.6" height="87.16" fill="#F6C642"/>
<rect x="1350.70" y="347.86" width="10.6" height="68.64" fill="#F8E660"/>
<rect x="1360.55" y="332.86" width="9.95" height="83.64" fill="#DAE65A"/>
<text x="1348" y="434.5" font-size="20" fill="#1e1e1e" stroke="#1e1e1e" stroke-width="0.35" text-anchor="middle">ноя</text>
<rect x="1385.40" y="323.83" width="10.6" height="92.67" fill="#F9AC30"/>
<rect x="1395.25" y="347.86" width="10.6" height="68.64" fill="#F6C642"/>
<rect x="1405.10" y="355.05" width="10.6" height="61.45" fill="#F8E660"/>
<rect x="1414.95" y="337.14" width="9.95" height="79.36" fill="#DAE65A"/>
<text x="1402.3" y="432.5" font-size="20" fill="#1e1e1e" stroke="#1e1e1e" stroke-width="0.35" text-anchor="middle">дек</text>
<line x1="772.5" y1="111.7" x2="772.5" y2="417.8" stroke="#999" stroke-width="1.1"/>
<line x1="767" y1="111.7" x2="773" y2="111.7" stroke="#999" stroke-width="1.1"/>
<line x1="764" y1="417.8" x2="773" y2="417.8" stroke="#999" stroke-width="1.1"/>
<text x="753" y="424.0" font-size="19.5" fill="#2e2e2e" stroke="#2e2e2e" stroke-width="0.3" text-anchor="end">0</text>
<text x="753" y="393.4" font-size="19.5" fill="#2e2e2e" stroke="#2e2e2e" stroke-width="0.3" text-anchor="end">20</text>
<text x="753" y="362.8" font-size="19.5" fill="#2e2e2e" stroke="#2e2e2e" stroke-width="0.3" text-anchor="end">40</text>
<text x="753" y="332.2" font-size="19.5" fill="#2e2e2e" stroke="#2e2e2e" stroke-width="0.3" text-anchor="end">60</text>
<text x="753" y="301.6" font-size="19.5" fill="#2e2e2e" stroke="#2e2e2e" stroke-width="0.3" text-anchor="end">80</text>
<text x="753" y="270.9" font-size="19.5" fill="#2e2e2e" stroke="#2e2e2e" stroke-width="0.3" text-anchor="end">100</text>
<text x="753" y="240.3" font-size="19.5" fill="#2e2e2e" stroke="#2e2e2e" stroke-width="0.3" text-anchor="end">120</text>
<text x="753" y="209.7" font-size="19.5" fill="#2e2e2e" stroke="#2e2e2e" stroke-width="0.3" text-anchor="end">140</text>
<text x="753" y="179.1" font-size="19.5" fill="#2e2e2e" stroke="#2e2e2e" stroke-width="0.3" text-anchor="end">160</text>
<text x="753" y="148.5" font-size="19.5" fill="#2e2e2e" stroke="#2e2e2e" stroke-width="0.3" text-anchor="end">180</text>
<text x="753" y="117.9" font-size="19.5" fill="#2e2e2e" stroke="#2e2e2e" stroke-width="0.3" text-anchor="end">200</text>
<text transform="translate(917,95.7) scale(0.89,1)" font-size="20.5" font-weight="bold" fill="#111" letter-spacing="1.1">189,7 кВтч/м<tspan dy="-10" font-size="10.5">2</tspan><tspan dy="10"> мес</tspan></text>
<text transform="translate(917,139.6) scale(0.89,1)" font-size="20.5" font-weight="bold" fill="#111" letter-spacing="1.1">170,8 кВтч/м<tspan dy="-10" font-size="10.5">2</tspan><tspan dy="10"> мес</tspan></text>
<text transform="translate(1222.3,95.2) scale(0.89,1)" font-size="20.5" font-weight="bold" fill="#111" letter-spacing="1.1">158,2 кВтч/м<tspan dy="-10" font-size="10.5">2</tspan><tspan dy="10"> мес</tspan></text>
<text transform="translate(1222.3,139.6) scale(0.89,1)" font-size="20.5" font-weight="bold" fill="#111" letter-spacing="1.1">136,8 кВтч/м<tspan dy="-10" font-size="10.5">2</tspan><tspan dy="10"> мес</tspan></text>
<polyline points="917,101.2 1086,101.2 1117.9,134.5" fill="none" stroke="#111" stroke-width="2.1"/>
<circle cx="1117.9" cy="134.5" r="3.4" fill="#fff" fill-opacity="0.5" stroke="#111" stroke-width="2"/>
<polyline points="917,143.8 1086,143.8 1127.9,186.7" fill="none" stroke="#111" stroke-width="2.1"/>
<circle cx="1127.9" cy="186.7" r="3.4" fill="#fff" fill-opacity="0.5" stroke="#111" stroke-width="2"/>
<polyline points="1395,100.2 1218,100.2 1137.5,180.5" fill="none" stroke="#111" stroke-width="2.1"/>
<circle cx="1137.5" cy="180.5" r="3.4" fill="#fff" fill-opacity="0.5" stroke="#111" stroke-width="2"/>
<polyline points="1395,143.8 1218,143.8 1147.8,214.2" fill="none" stroke="#111" stroke-width="2.1"/>
<circle cx="1147.8" cy="214.2" r="3.4" fill="#fff" fill-opacity="0.5" stroke="#111" stroke-width="2"/>
</svg></body></html>
